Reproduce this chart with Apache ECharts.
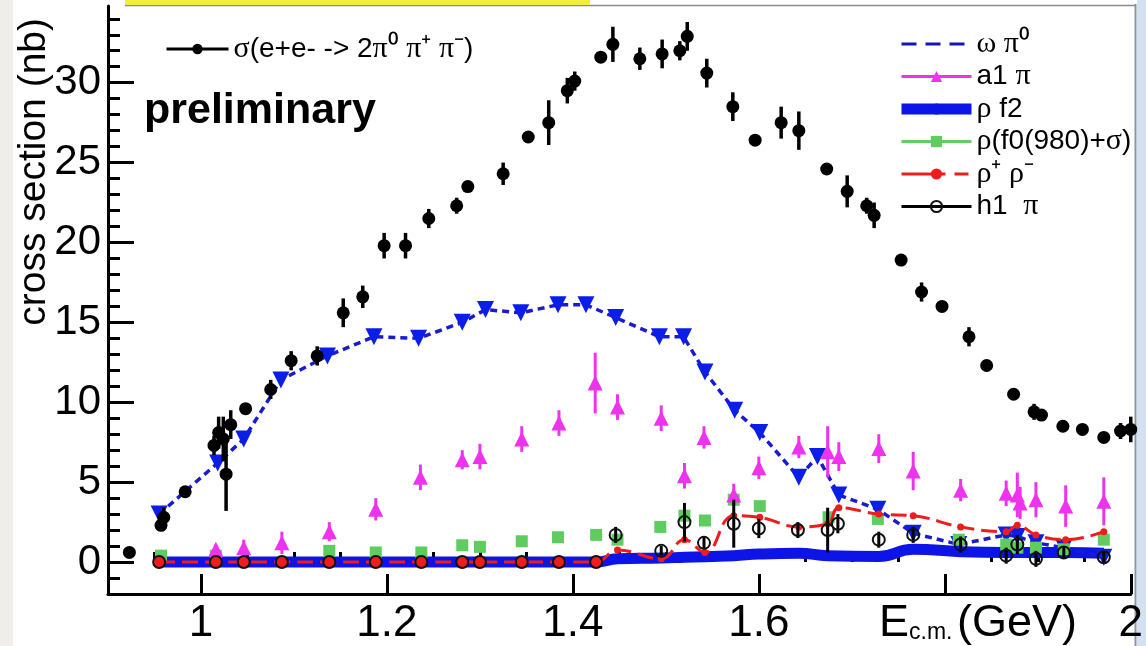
<!DOCTYPE html>
<html>
<head>
<meta charset="utf-8">
<script src="https://cdn.jsdelivr.net/npm/echarts@6/dist/echarts.min.js"></script>
<style>
  html, body { margin: 0; padding: 0; background: #fff; }
  #chart { width: 1146px; height: 646px; }
</style>
</head>
<body>
<div id="chart"></div>
<script>
// ---- measured cross section sigma(e+e- -> 2pi0 pi+ pi-) ----
const sigmaE   = [0.923, 0.957, 0.960, 0.983, 1.014, 1.019, 1.024, 1.027, 1.032, 1.048, 1.075, 1.097, 1.125, 1.153, 1.174, 1.197, 1.220, 1.245, 1.275, 1.287, 1.325, 1.352, 1.374, 1.394, 1.402, 1.430, 1.443, 1.472, 1.496, 1.515, 1.523, 1.544, 1.572, 1.596, 1.624, 1.643, 1.673, 1.695, 1.716, 1.724, 1.753, 1.775, 1.797, 1.826, 1.845, 1.874, 1.896, 1.904, 1.927, 1.948, 1.971, 1.989, 2.000];
const sigmaXS  = [0.6, 2.3, 2.8, 4.4, 7.3, 8.1, 7.7, 5.5, 8.6, 9.6, 10.8, 12.6, 12.9, 15.6, 16.6, 19.8, 19.8, 21.5, 22.3, 23.5, 24.3, 26.6, 27.5, 29.5, 30.1, 31.6, 32.4, 31.5, 31.8, 32.0, 32.9, 30.6, 28.5, 26.4, 27.5, 27.0, 24.6, 23.2, 22.3, 21.7, 18.9, 16.9, 16.0, 14.1, 12.3, 10.5, 9.4, 9.2, 8.5, 8.3, 7.8, 8.2, 8.3];
const sigmaErr = [0, 0.3, 0.6, 0, 0.6, 1.0, 1.4, 2.3, 0.9, 0, 0.6, 0.6, 0.6, 0.9, 0.7, 0.8, 0.8, 0.6, 0.5, 0, 0.7, 0, 1.4, 0.8, 0.6, 0, 1.1, 0.7, 0.9, 0.6, 0.9, 0.9, 0.9, 0, 1.0, 1.2, 0, 1.0, 0.5, 0.8, 0, 0.6, 0, 0.6, 0, 0, 0.5, 0, 0, 0, 0, 0.5, 0.8];

// ---- omega pi0 component ----
const omegaE  = [0.955, 1.018, 1.046, 1.086, 1.136, 1.186, 1.234, 1.281, 1.306, 1.344, 1.384, 1.414, 1.446, 1.493, 1.519, 1.542, 1.574, 1.601, 1.643, 1.663, 1.686, 1.728, 1.766, 1.815, 1.866, 1.878, 1.898, 1.928, 1.971];
const omegaXS = [3.0, 6.2, 7.7, 11.4, 12.9, 14.1, 14.0, 15.0, 15.8, 15.6, 16.1, 16.1, 15.3, 14.1, 14.1, 11.9, 9.5, 8.1, 5.3, 6.6, 4.2, 3.3, 1.8, 1.1, 1.7, 1.6, 1.2, 0.9, 0.3];

// ---- a1 pi component ----
const a1E   = [1.016, 1.046, 1.087, 1.138, 1.188, 1.236, 1.281, 1.300, 1.345, 1.385, 1.424, 1.448, 1.495, 1.520, 1.541, 1.573, 1.600, 1.643, 1.674, 1.686, 1.729, 1.766, 1.817, 1.866, 1.878, 1.881, 1.898, 1.930, 1.971];
const a1XS  = [0.8, 0.9, 1.2, 1.9, 3.3, 5.3, 6.4, 6.6, 7.7, 8.7, 11.2, 9.7, 9.0, 5.4, 7.8, 4.2, 5.9, 7.2, 6.9, 6.6, 7.1, 5.7, 4.5, 4.3, 4.2, 3.7, 3.9, 3.5, 3.8];
const a1Err = [0.3, 0.5, 0.7, 0.6, 0.7, 0.8, 0.6, 0.8, 0.8, 0.8, 1.9, 0.8, 0.8, 0.8, 0.7, 0.7, 0.7, 0.7, 1.6, 0.9, 0.9, 1.2, 0.7, 0.8, 1.4, 1.0, 1.1, 1.3, 1.5];

// ---- rho f2 component ----
const rhoF2E  = [0.955, 1.016, 1.087, 1.188, 1.281, 1.385, 1.425, 1.448, 1.495, 1.520, 1.573, 1.600, 1.643, 1.674, 1.729, 1.766, 1.817, 1.866, 1.898, 1.930, 1.971];
const rhoF2XS = [0, 0, 0, 0, 0, 0, 0, 0.2, 0.25, 0.3, 0.4, 0.5, 0.55, 0.4, 0.35, 0.8, 0.65, 0.6, 0.6, 0.6, 0.55];

// ---- rho (f0(980)+sigma) component ----
const rhoF0E  = [0.957, 1.016, 1.138, 1.188, 1.237, 1.281, 1.300, 1.345, 1.384, 1.425, 1.448, 1.494, 1.520, 1.542, 1.573, 1.601, 1.675, 1.728, 1.815, 1.866, 1.878, 1.898, 1.928, 1.971];
const rhoF0XS = [0.4, 0.4, 0.7, 0.6, 0.6, 1.05, 0.95, 1.3, 1.55, 1.7, 1.4, 2.2, 2.9, 2.6, 3.9, 3.5, 2.8, 2.7, 1.4, 1.1, 0.9, 0.9, 0.8, 1.4];

// ---- rho+ rho- component ----
const rhoPME  = [0.955, 1.016, 1.046, 1.087, 1.138, 1.188, 1.237, 1.281, 1.300, 1.345, 1.385, 1.425, 1.448, 1.495, 1.520, 1.542, 1.573, 1.601, 1.643, 1.674, 1.686, 1.729, 1.766, 1.817, 1.866, 1.878, 1.898, 1.930, 1.971];
const rhoPMXS = [0, 0, 0, 0, 0, 0, 0, 0, 0, 0, 0, 0, 0.75, 0.2, 1.4, 0.6, 2.9, 2.8, 2.2, 2.4, 3.4, 3.0, 2.9, 2.2, 1.9, 2.3, 1.7, 1.4, 1.9];

// ---- h1 pi component ----
const h1E   = [0.955, 1.016, 1.046, 1.087, 1.138, 1.188, 1.237, 1.281, 1.300, 1.345, 1.385, 1.425, 1.446, 1.495, 1.520, 1.541, 1.573, 1.600, 1.642, 1.674, 1.685, 1.729, 1.766, 1.817, 1.866, 1.878, 1.898, 1.928, 1.971];
const h1XS  = [0, 0, 0, 0, 0, 0, 0, 0, 0, 0, 0, 0, 1.7, 0.7, 2.5, 1.2, 2.4, 2.1, 2.0, 2.0, 2.4, 1.4, 1.7, 1.1, 0.4, 1.1, 0.2, 0.6, 0.3];
const h1Err = [0, 0, 0, 0, 0, 0, 0, 0, 0, 0, 0, 0, 0.5, 0.3, 1.2, 0.4, 1.5, 0.6, 0.5, 1.4, 0.6, 0.5, 0.5, 0.5, 0.5, 0.6, 0.5, 0.4, 0.4];

// ---- axis ticks and labels ----
const xMajorTicks = [1.0, 1.2, 1.4, 1.6, 1.8, 2.0];
const xLabelTicks = [1.0, 1.2, 1.4, 1.6, 2.0];
const xMinorTicks = [0.95, 1.05, 1.1, 1.15, 1.25, 1.3, 1.35, 1.45, 1.5, 1.55, 1.65, 1.7, 1.75, 1.85, 1.9, 1.95];
const yMajorTicks = [0, 5, 10, 15, 20, 25, 30];
const yMinorTicks = [-2, -1, 1, 2, 3, 4, 6, 7, 8, 9, 11, 12, 13, 14, 16, 17, 18, 19, 21, 22, 23, 24, 26, 27, 28, 29, 31, 32, 33, 34];

// ---- series names ----
const NAME_SIGMA = 'σ(e+e- -> 2π⁰ π⁺ π⁻)';
const NAME_OMEGA = 'ω π⁰';
const NAME_A1    = 'a1 π';
const NAME_RHOF2 = 'ρ f2';
const NAME_RHOF0 = 'ρ(f0(980)+σ)';
const NAME_RHOPM = 'ρ⁺ ρ⁻';
const NAME_H1    = 'h1  π';

const richNames = {};
richNames[NAME_SIGMA] = '{g|σ}(e+e- -> 2{g|π⁰ π⁺ π⁻})';
richNames[NAME_OMEGA] = '{g|ω π⁰}';
richNames[NAME_A1]    = 'a1 {g|π}';
richNames[NAME_RHOF2] = '{g|ρ} f2';
richNames[NAME_RHOF0] = '{g|ρ}(f0(980)+{g|σ})';
richNames[NAME_RHOPM] = '{g|ρ⁺ ρ⁻}';
richNames[NAME_H1]    = 'h1  {g|π}';

const SANS = 'Liberation Sans, Arial, Helvetica, sans-serif';
const SERIF = 'Liberation Serif, Times New Roman, serif';

const pairs = (xs, ys) => xs.map((x, i) => [x, ys[i]]);

// vertical error bars drawn through the cartesian coordinate system
function errorBars(xs, ys, errs, color, width, z) {
  const data = [];
  xs.forEach((x, i) => { if (errs[i] > 0) data.push([x, ys[i] - errs[i], ys[i] + errs[i]]); });
  return {
    type: 'custom',
    silent: true,
    z: z,
    data: data,
    encode: { x: 0, y: [1, 2] },
    renderItem: function (params, api) {
      const lo = api.coord([api.value(0), api.value(1)]);
      const hi = api.coord([api.value(0), api.value(2)]);
      return {
        type: 'line',
        shape: { x1: lo[0], y1: lo[1], x2: hi[0], y2: hi[1] },
        style: { stroke: color, lineWidth: width }
      };
    }
  };
}

const chart = echarts.init(document.getElementById('chart'), null, { renderer: 'canvas' });

const legendText = {
  fontFamily: SANS,
  fontSize: 28,
  color: '#000',
  lineHeight: 30,
  rich: { g: { fontFamily: SERIF, fontSize: 30, color: '#000' } }
};

const option = {
  animation: false,
  backgroundColor: '#fff',
  grid: { left: 108, right: 14, top: 6, bottom: 49, containLabel: false },
  xAxis: [
    {
      type: 'value', min: 0.9, max: 2.0, position: 'bottom',
      axisLine: { show: true, onZero: false, lineStyle: { color: '#000', width: 3 } },
      axisTick: { show: true, inside: true, length: 20, customValues: xMajorTicks, lineStyle: { color: '#000', width: 3 } },
      axisLabel: {
        customValues: xLabelTicks, margin: 8, color: '#000', fontFamily: SANS, fontSize: 44,
        formatter: v => (Math.abs(v - Math.round(v)) < 1e-9 ? String(Math.round(v)) : v.toFixed(1))
      },
      splitLine: { show: false }
    },
    {
      type: 'value', min: 0.9, max: 2.0, position: 'bottom',
      axisLine: { show: false },
      axisTick: { show: true, inside: true, length: 10, customValues: xMinorTicks, lineStyle: { color: '#000', width: 3 } },
      axisLabel: { show: false },
      splitLine: { show: false }
    }
  ],
  yAxis: [
    {
      type: 'value', min: -2, max: 34.8, position: 'left',
      axisLine: { show: true, onZero: false, lineStyle: { color: '#000', width: 3 } },
      axisTick: { show: true, inside: true, length: 26, customValues: yMajorTicks, lineStyle: { color: '#000', width: 3 } },
      axisLabel: { customValues: yMajorTicks, margin: 7, color: '#000', fontFamily: SANS, fontSize: 42 },
      splitLine: { show: false }
    },
    {
      type: 'value', min: -2, max: 34.8, position: 'left',
      axisLine: { show: false },
      axisTick: { show: true, inside: true, length: 12, customValues: yMinorTicks, lineStyle: { color: '#000', width: 3 } },
      axisLabel: { show: false },
      splitLine: { show: false }
    }
  ],
  legend: [
    {
      orient: 'vertical', left: 891, top: 24,
      itemWidth: 70, itemHeight: 14, itemGap: 2.5,
      textStyle: legendText,
      formatter: name => richNames[name],
      selectedMode: false,
      data: [
        { name: NAME_OMEGA, itemStyle: { opacity: 0 }, lineStyle: { type: [15, 9], width: 3, color: '#1414b4' } },
        { name: NAME_A1, lineStyle: { opacity: 1, width: 3, color: '#ee33ee' } },
        { name: NAME_RHOF2, lineStyle: { width: 11 } },
        { name: NAME_RHOF0, lineStyle: { opacity: 1, width: 3, color: '#66cc66' } },
        { name: NAME_RHOPM, lineStyle: { type: [44, 9, 14], width: 3 } },
        { name: NAME_H1, lineStyle: { opacity: 1, width: 3, color: '#000' } }
      ]
    },
    {
      orient: 'horizontal', left: 160, top: 29,
      itemWidth: 62, itemHeight: 13,
      textStyle: legendText,
      formatter: name => richNames[name],
      selectedMode: false,
      data: [{ name: NAME_SIGMA, lineStyle: { opacity: 1, width: 3, color: '#000' } }]
    }
  ],
  graphic: [
    { type: 'rect', z: -10, shape: { x: 0, y: 0, width: 13, height: 646 }, style: { fill: '#efeeeb' } },
    { type: 'rect', z: -10, shape: { x: 1137, y: 0, width: 9, height: 646 }, style: { fill: '#d3e2f2' } },
    { type: 'line', z: -5, shape: { x1: 1135.5, y1: 4, x2: 1135.5, y2: 646 }, style: { stroke: '#8796aa', lineWidth: 2 } },
    { type: 'line', z: -5, shape: { x1: 125, y1: 5.5, x2: 1136, y2: 5.5 }, style: { stroke: '#8a8a8a', lineWidth: 1.5 } },
    { type: 'rect', z: -4, shape: { x: 125, y: 0, width: 465, height: 5 }, style: { fill: '#f2ee3c' } },
    {
      type: 'text', left: 144, top: 90, z: 50,
      style: { text: 'preliminary', fontFamily: SANS, fontWeight: 'bold', fontSize: 43, fill: '#000' }
    },
    {
      type: 'text', x: 34, y: 18, rotation: Math.PI / 2, z: 50,
      style: { text: 'cross section (nb)', fontFamily: SANS, fontSize: 39, fill: '#000', align: 'right', verticalAlign: 'middle' }
    },
    { type: 'text', x: 879, y: 601, z: 50, style: { text: 'E', fontFamily: SANS, fontSize: 45, fill: '#000' } },
    { type: 'text', x: 909, y: 621, z: 50, style: { text: 'c.m.', fontFamily: SANS, fontSize: 23, fill: '#000' } },
    { type: 'text', x: 957, y: 601, z: 50, style: { text: '(GeV)', fontFamily: SANS, fontSize: 45, fill: '#000' } }
  ],
  series: [
    {
      name: NAME_RHOF2, type: 'line', z: 2, smooth: 0.5,
      data: pairs(rhoF2E, rhoF2XS), showSymbol: false, symbol: 'none',
      lineStyle: { color: '#0c14e8', width: 11 }, itemStyle: { color: '#0c14e8' }
    },
    {
      name: NAME_OMEGA, type: 'line', z: 3,
      data: pairs(omegaE, omegaXS),
      symbol: 'triangle', symbolRotate: 180, symbolSize: 17,
      lineStyle: { color: '#1a1ad0', width: 3.5, type: [7, 5] },
      itemStyle: { color: '#0a1ee8' }
    },
    {
      name: NAME_RHOF0, type: 'line', z: 4,
      data: pairs(rhoF0E, rhoF0XS),
      symbol: 'rect', symbolSize: 12,
      lineStyle: { opacity: 0 }, itemStyle: { color: '#5fcc5f' }
    },
    errorBars(a1E, a1XS, a1Err, '#ee33ee', 3, 5),
    {
      name: NAME_A1, type: 'line', z: 5,
      data: pairs(a1E, a1XS),
      symbol: 'triangle', symbolSize: 15,
      lineStyle: { opacity: 0 }, itemStyle: { color: '#ee33ee' }
    },
    {
      name: NAME_RHOPM, type: 'line', z: 6, smooth: 0.45,
      data: pairs(rhoPME, rhoPMXS),
      symbol: 'circle', symbolSize: v => (v[1] === 0 ? 11 : 7),
      lineStyle: { color: '#ee1c1c', width: 3, type: [16, 7] },
      itemStyle: { color: '#ee1c1c' }
    },
    errorBars(h1E, h1XS, h1Err, '#000', 3, 7),
    {
      name: NAME_H1, type: 'line', z: 7,
      data: pairs(h1E, h1XS),
      symbol: 'circle', symbolSize: 12,
      lineStyle: { opacity: 0 },
      itemStyle: { color: 'rgba(0,0,0,0)', borderColor: '#111', borderWidth: 2 }
    },
    errorBars(sigmaE, sigmaXS, sigmaErr, '#000', 3.5, 8),
    {
      name: NAME_SIGMA, type: 'line', z: 8,
      data: pairs(sigmaE, sigmaXS),
      symbol: 'circle', symbolSize: 13,
      lineStyle: { opacity: 0 }, itemStyle: { color: '#000' }
    }
  ]
};

chart.setOption(option);
</script>
</body>
</html>
